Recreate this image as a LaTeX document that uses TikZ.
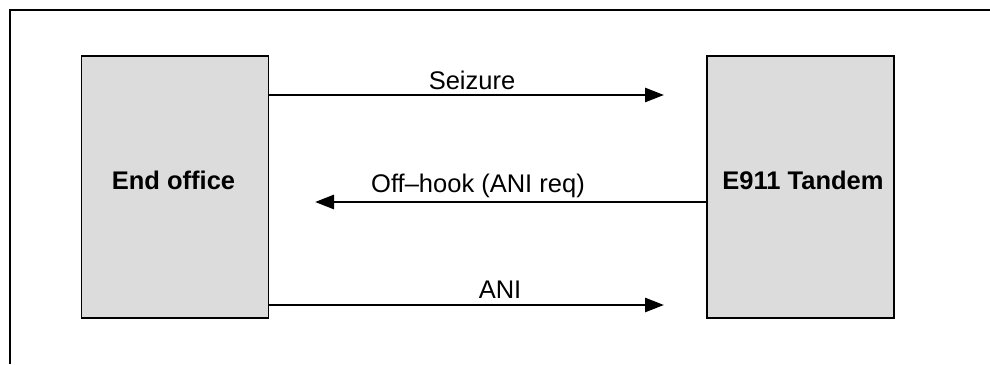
\documentclass[tikz,border=0pt]{standalone}
\usepackage{fontspec}
\setmainfont{Liberation Sans}
\usetikzlibrary{arrows.meta}
\definecolor{boxgray}{HTML}{DCDCDC}
\begin{document}
\begin{tikzpicture}[x=1pt,y=-1pt,
  office/.style={draw=black, line width=1.8pt, fill=boxgray, minimum width=187pt, minimum height=262pt, inner sep=0pt},
  bigtext/.style={font=\fontsize{25.5}{28}\selectfont\bfseries, anchor=base, inner sep=0pt},
  msg/.style={font=\fontsize{25.5}{28}\selectfont, anchor=base, inner sep=0pt},
  sig/.style={line width=2.8pt, -{Triangle[length=19pt,width=14pt]}}]
\useasboundingbox (0,0) rectangle (990,364);
\draw[line width=1.8pt] (10,364) -- (10,10) -- (990,10);
\node[office] (eo) at (175,187) {};
\node[office] (tan) at (800.5,187) {};
\node[bigtext] (eol) at (173.5,189) {End office};
\node[bigtext] (tanl) at (803,189) {E911 Tandem};
\coordinate (s1) at (664,95);
\coordinate (o1) at (315,202);
\coordinate (a1) at (664,305);
\draw[sig] (eo.east |- s1) -- (s1);
\draw[sig] (tan.west |- o1) -- (o1);
\draw[sig] (eo.east |- a1) -- (a1);
\node[msg] (sl) at (472,89) {Seizure};
\node[msg] (ol) at (478,192) {Off–hook (ANI req)};
\node[msg] (al) at (500,298) {ANI};
\end{tikzpicture}
\end{document}
